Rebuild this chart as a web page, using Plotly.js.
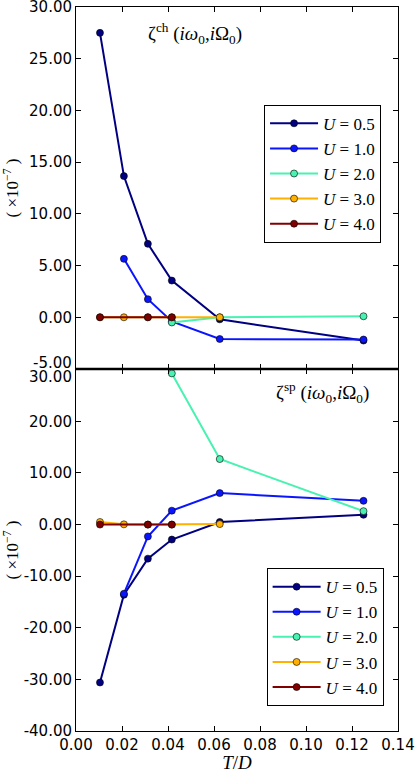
<!DOCTYPE html>
<html>
<head>
<meta charset="utf-8">
<script src="https://cdn.plot.ly/plotly-3.0.1.min.js"></script>
<style>html,body{margin:0;padding:0;background:#fff;}#chart{width:415px;height:773px;}</style>
</head>
<body>
<div id="chart"></div>
<script>
// Temperatures T/D
const T = [0.01042, 0.02083, 0.03125, 0.04167, 0.0625, 0.125];
const seriesNames = ["U=0.5", "U=1.0", "U=2.0", "U=3.0", "U=4.0"];
const legendLabels = ["<i>U</i> = 0.5", "<i>U</i> = 1.0", "<i>U</i> = 2.0", "<i>U</i> = 3.0", "<i>U</i> = 4.0"];
const colors = ["#000080", "#0a14ff", "#48f2b0", "#ffb000", "#800000"];

// charge channel zeta^ch (x1e-7)
const chU05 = [27.5, 13.65, 7.1, 3.55, -0.2, -2.25];
const chU10 = [null, 5.65, 1.75, -0.4, -2.1, -2.15];
const chU20 = [null, null, null, -0.5, 0.0, 0.1];
const chU30 = [0.0, 0.0, 0.0, 0.0, 0.0, null];
const chU40 = [0.0, null, 0.0, 0.0, null, null];

// spin channel zeta^sp (x1e-7)
const spU05 = [-30.6, -13.6, -6.6, -2.9, 0.5, 1.9];
const spU10 = [null, -13.4, -2.3, 2.7, 6.1, 4.6];
const spU20 = [null, null, null, 29.3, 12.7, 2.6];
const spU30 = [0.5, 0.05, 0.0, 0.0, 0.1, null];
const spU40 = [0.0, null, 0.0, 0.0, null, null];

const chSeries = [chU05, chU10, chU20, chU30, chU40];
const spSeries = [spU05, spU10, spU20, spU30, spU40];

const yTicksTop = [-5, 0, 5, 10, 15, 20, 25, 30];
const yTicksBot = [-40, -30, -20, -10, 0, 10, 20, 30];
const xTicks = [0, 0.02, 0.04, 0.06, 0.08, 0.10, 0.12, 0.14];

function mk(ys, i, xa, ya, leg) {
  return {
    x: T, y: ys, xaxis: xa, yaxis: ya, type: 'scatter', mode: 'lines+markers',
    connectgaps: true, name: legendLabels[i], legend: leg, legendgroup: leg + i,
    line: {color: colors[i], width: 2},
    marker: {color: colors[i], size: 7, line: {color: '#000', width: 0.6}}
  };
}
const data = [];
chSeries.forEach((s, i) => data.push(mk(s, i, 'x2', 'y', 'legend')));
spSeries.forEach((s, i) => data.push(mk(s, i, 'x', 'y2', 'legend2')));

const fmt = v => v.toFixed(2);
// labels at the panel junction are drawn separately (shifted apart)
const topText = yTicksTop.map(v => v === -5 ? '' : fmt(v));
const botText = yTicksBot.map(v => v === 30 ? '' : fmt(v));

const tickFont = {family: 'DejaVu Sans', size: 15, color: '#000'};
const axCommon = {showline: true, linecolor: '#000', linewidth: 1, mirror: 'ticks', ticks: 'inside',
  ticklen: 5, tickcolor: '#000', showgrid: false, zeroline: false, tickfont: tickFont,
  ticklabeloverflow: 'allow'};
const serif = 'Liberation Serif';

const legCommon = {bordercolor: '#000', borderwidth: 1, bgcolor: '#fff',
  font: {family: serif, size: 17, color: '#000'}, traceorder: 'grouped', tracegroupgap: 0,
  xanchor: 'left', yanchor: 'top', itemwidth: 48};

const layout = {
  width: 415, height: 773,
  margin: {l: 76, r: 17, t: 7, b: 42},
  paper_bgcolor: '#fff', plot_bgcolor: '#fff',
  showlegend: true,
  xaxis: Object.assign({}, axCommon, {anchor: 'y2', range: [0, 0.14], tickvals: xTicks, tickformat: '.2f',
    title: {text: '<i>T</i>/<i>D</i>', font: {family: serif, size: 19, color: '#000'}, standoff: 2}}),
  xaxis2: Object.assign({}, axCommon, {anchor: 'y', matches: 'x', range: [0, 0.14], tickvals: xTicks, showticklabels: false}),
  yaxis: Object.assign({}, axCommon, {domain: [0.5, 1], range: [-5, 30], tickvals: yTicksTop, ticktext: topText,
    title: {text: '( ×10<sup>−7</sup> )', font: {family: serif, size: 17, color: '#000'}, standoff: 6}}),
  yaxis2: Object.assign({}, axCommon, {domain: [0, 0.5], range: [-40, 30.15], tickvals: yTicksBot, ticktext: botText,
    title: {text: '( ×10<sup>−7</sup> )', font: {family: serif, size: 17, color: '#000'}, standoff: 6}}),
  legend: Object.assign({}, legCommon, {x: 0.584, y: 0.865}),
  legend2: Object.assign({}, legCommon, {x: 0.592, y: 0.225}),
  shapes: [{type: 'line', xref: 'paper', yref: 'paper', x0: 0, x1: 1, y0: 0.5, y1: 0.5, line: {color: '#000', width: 2.5}}],
  annotations: [
    {text: 'ζ<sup>ch</sup> (<i>iω</i><sub>0</sub>,<i>i</i>Ω<sub>0</sub>)', xref: 'paper', yref: 'paper', x: 0.37, y: 0.964,
      xanchor: 'center', yanchor: 'middle', showarrow: false, font: {family: serif, size: 19, color: '#000'}},
    {text: 'ζ<sup>sp</sup> (<i>iω</i><sub>0</sub>,<i>i</i>Ω<sub>0</sub>)', xref: 'paper', yref: 'paper', x: 0.767, y: 0.468,
      xanchor: 'center', yanchor: 'middle', showarrow: false, font: {family: serif, size: 19, color: '#000'}},
    {text: fmt(yTicksTop[0]), xref: 'paper', yref: 'y', x: 0, y: yTicksTop[0], xanchor: 'right', yanchor: 'middle',
      xshift: -2, yshift: 6, showarrow: false, font: tickFont},
    {text: fmt(yTicksBot[yTicksBot.length - 1]), xref: 'paper', yref: 'y2', x: 0, y: yTicksBot[yTicksBot.length - 1],
      xanchor: 'right', yanchor: 'middle', xshift: -2, yshift: -7, showarrow: false, font: tickFont}
  ]
};

Plotly.newPlot('chart', data, layout, {displayModeBar: false, staticPlot: true});
</script>
</body>
</html>
